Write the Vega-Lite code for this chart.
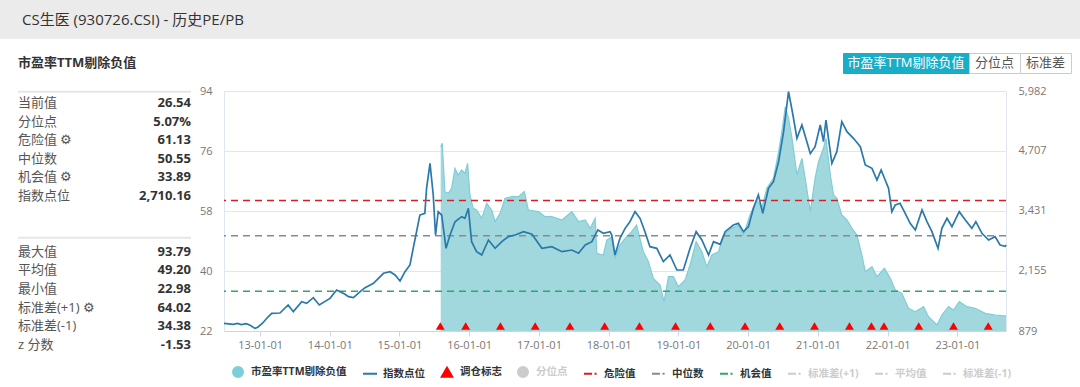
{
  "$schema": "https://vega.github.io/schema/vega-lite/v6.json",
  "padding": 0,
  "background": "white",
  "bounds": "flush",
  "align": "none",
  "spacing": 14,
  "config": {
    "font": "'Open Sans', 'Noto Sans CJK SC', sans-serif",
    "view": {"stroke": null}
  },
  "datasets": {
    "stats": [
      {"r": 0, "label": "当前值", "value": "26.54"},
      {"r": 1, "label": "分位点", "value": "5.07%"},
      {"r": 2, "label": "危险值  ⚙", "value": "61.13"},
      {"r": 3, "label": "中位数", "value": "50.55"},
      {"r": 4, "label": "机会值  ⚙", "value": "33.89"},
      {"r": 5, "label": "指数点位", "value": "2,710.16"},
      {"r": 8, "label": "最大值", "value": "93.79"},
      {"r": 9, "label": "平均值", "value": "49.20"},
      {"r": 10, "label": "最小值", "value": "22.98"},
      {"r": 11, "label": "标准差(+1)  ⚙", "value": "64.02"},
      {"r": 12, "label": "标准差(-1)", "value": "34.38"},
      {"r": 13, "label": "z 分数", "value": "-1.53"}
    ],
    "index": [
      {"d": "2012-06-26", "v": 1040}, {"d": "2012-07-20", "v": 1030}, {"d": "2012-08-13", "v": 1021},
      {"d": "2012-09-05", "v": 1040}, {"d": "2012-09-25", "v": 1015}, {"d": "2012-10-20", "v": 1035},
      {"d": "2012-11-10", "v": 1000}, {"d": "2012-12-05", "v": 935}, {"d": "2012-12-20", "v": 960},
      {"d": "2013-01-15", "v": 1049}, {"d": "2013-02-05", "v": 1150}, {"d": "2013-03-03", "v": 1255},
      {"d": "2013-04-15", "v": 1262}, {"d": "2013-05-28", "v": 1432}, {"d": "2013-06-24", "v": 1290},
      {"d": "2013-08-07", "v": 1502}, {"d": "2013-09-02", "v": 1467}, {"d": "2013-10-07", "v": 1587},
      {"d": "2013-11-07", "v": 1432}, {"d": "2014-01-02", "v": 1573}, {"d": "2014-02-06", "v": 1751},
      {"d": "2014-03-22", "v": 1660}, {"d": "2014-04-09", "v": 1609}, {"d": "2014-05-05", "v": 1587},
      {"d": "2014-06-09", "v": 1715}, {"d": "2014-07-05", "v": 1800}, {"d": "2014-08-18", "v": 1893},
      {"d": "2014-10-09", "v": 2106}, {"d": "2014-11-13", "v": 2140}, {"d": "2014-12-09", "v": 2070},
      {"d": "2015-01-04", "v": 1942}, {"d": "2015-01-30", "v": 2140}, {"d": "2015-02-25", "v": 2282},
      {"d": "2015-03-14", "v": 2637}, {"d": "2015-04-18", "v": 3345}, {"d": "2015-05-14", "v": 3382},
      {"d": "2015-05-23", "v": 3913}, {"d": "2015-06-10", "v": 4444}, {"d": "2015-06-27", "v": 3771},
      {"d": "2015-07-09", "v": 2920}, {"d": "2015-07-23", "v": 3415}, {"d": "2015-08-10", "v": 3345},
      {"d": "2015-09-02", "v": 2637}, {"d": "2015-09-23", "v": 2920}, {"d": "2015-10-19", "v": 3203},
      {"d": "2015-11-23", "v": 3310}, {"d": "2015-12-10", "v": 3275}, {"d": "2015-12-28", "v": 3488},
      {"d": "2016-01-14", "v": 2778}, {"d": "2016-02-09", "v": 2567}, {"d": "2016-03-07", "v": 2495},
      {"d": "2016-04-11", "v": 2814}, {"d": "2016-05-16", "v": 2637}, {"d": "2016-06-20", "v": 2778},
      {"d": "2016-07-25", "v": 2885}, {"d": "2016-08-29", "v": 2920}, {"d": "2016-10-12", "v": 2991},
      {"d": "2016-11-25", "v": 2935}, {"d": "2017-01-16", "v": 2637}, {"d": "2017-03-09", "v": 2672},
      {"d": "2017-05-01", "v": 2566}, {"d": "2017-06-22", "v": 2601}, {"d": "2017-07-27", "v": 2531},
      {"d": "2017-08-31", "v": 2708}, {"d": "2017-10-05", "v": 2778}, {"d": "2017-11-05", "v": 3027},
      {"d": "2017-12-04", "v": 2956}, {"d": "2018-01-08", "v": 2991}, {"d": "2018-01-17", "v": 2920},
      {"d": "2018-02-03", "v": 2495}, {"d": "2018-03-01", "v": 2850}, {"d": "2018-03-28", "v": 3062},
      {"d": "2018-04-22", "v": 3203}, {"d": "2018-05-19", "v": 3416}, {"d": "2018-06-14", "v": 3275},
      {"d": "2018-07-10", "v": 2991}, {"d": "2018-08-05", "v": 2672}, {"d": "2018-09-10", "v": 2637},
      {"d": "2018-10-14", "v": 2354}, {"d": "2018-11-18", "v": 2495}, {"d": "2018-12-24", "v": 2176},
      {"d": "2019-01-27", "v": 2176}, {"d": "2019-03-03", "v": 2637}, {"d": "2019-04-04", "v": 2991},
      {"d": "2019-05-04", "v": 2814}, {"d": "2019-06-08", "v": 2495}, {"d": "2019-07-04", "v": 2778},
      {"d": "2019-08-08", "v": 2722}, {"d": "2019-09-03", "v": 2991}, {"d": "2019-10-16", "v": 3133},
      {"d": "2019-11-11", "v": 3168}, {"d": "2019-12-08", "v": 2991}, {"d": "2020-01-03", "v": 3098},
      {"d": "2020-01-29", "v": 3488}, {"d": "2020-02-24", "v": 3771}, {"d": "2020-03-18", "v": 3381},
      {"d": "2020-04-17", "v": 3913}, {"d": "2020-05-13", "v": 4054}, {"d": "2020-06-09", "v": 4479},
      {"d": "2020-07-05", "v": 5117}, {"d": "2020-07-31", "v": 5968}, {"d": "2020-08-23", "v": 5472},
      {"d": "2020-09-13", "v": 4976}, {"d": "2020-10-09", "v": 5259}, {"d": "2020-11-04", "v": 4904},
      {"d": "2020-11-22", "v": 4650}, {"d": "2020-12-17", "v": 4798}, {"d": "2021-01-13", "v": 5259},
      {"d": "2021-01-30", "v": 4904}, {"d": "2021-02-12", "v": 5365}, {"d": "2021-03-15", "v": 4444},
      {"d": "2021-04-10", "v": 4692}, {"d": "2021-05-06", "v": 5330}, {"d": "2021-06-02", "v": 5117},
      {"d": "2021-07-06", "v": 4976}, {"d": "2021-08-11", "v": 4798}, {"d": "2021-09-06", "v": 4409},
      {"d": "2021-10-11", "v": 4338}, {"d": "2021-11-06", "v": 4090}, {"d": "2021-11-28", "v": 4302},
      {"d": "2021-12-19", "v": 4090}, {"d": "2022-01-06", "v": 3913}, {"d": "2022-01-23", "v": 3416},
      {"d": "2022-02-10", "v": 3558}, {"d": "2022-03-07", "v": 3594}, {"d": "2022-04-03", "v": 3381},
      {"d": "2022-04-29", "v": 3169}, {"d": "2022-05-26", "v": 3027}, {"d": "2022-06-30", "v": 3452},
      {"d": "2022-07-26", "v": 3203}, {"d": "2022-08-21", "v": 2991}, {"d": "2022-09-22", "v": 2637},
      {"d": "2022-10-12", "v": 3062}, {"d": "2022-11-08", "v": 3275}, {"d": "2022-12-04", "v": 3098},
      {"d": "2023-01-11", "v": 3416}, {"d": "2023-02-12", "v": 3239}, {"d": "2023-03-18", "v": 3062},
      {"d": "2023-04-08", "v": 3203}, {"d": "2023-05-10", "v": 2956}, {"d": "2023-06-14", "v": 2814},
      {"d": "2023-07-18", "v": 2885}, {"d": "2023-08-13", "v": 2708}, {"d": "2023-09-09", "v": 2680},
      {"d": "2023-09-13", "v": 2710}
    ],
    "pe": [
      {"d": "2015-08-05", "pe": 77.3}, {"d": "2015-08-13", "pe": 78.3}, {"d": "2015-08-27", "pe": 63.8},
      {"d": "2015-09-14", "pe": 63.3}, {"d": "2015-10-01", "pe": 64.8}, {"d": "2015-10-19", "pe": 70.8},
      {"d": "2015-11-05", "pe": 68.8}, {"d": "2015-11-23", "pe": 70.3}, {"d": "2015-12-10", "pe": 69.3},
      {"d": "2015-12-24", "pe": 72.3}, {"d": "2016-01-05", "pe": 62.8}, {"d": "2016-01-22", "pe": 58.8},
      {"d": "2016-02-09", "pe": 58.3}, {"d": "2016-03-07", "pe": 55.8}, {"d": "2016-04-02", "pe": 60.3},
      {"d": "2016-04-28", "pe": 58.3}, {"d": "2016-05-16", "pe": 54.8}, {"d": "2016-06-11", "pe": 57.3},
      {"d": "2016-07-07", "pe": 61.8}, {"d": "2016-08-11", "pe": 62.3}, {"d": "2016-09-15", "pe": 62.3},
      {"d": "2016-10-16", "pe": 63.8}, {"d": "2016-11-06", "pe": 58.3}, {"d": "2016-12-29", "pe": 57.8},
      {"d": "2017-02-02", "pe": 56.3}, {"d": "2017-03-09", "pe": 56.3}, {"d": "2017-05-01", "pe": 55.3},
      {"d": "2017-06-22", "pe": 57.8}, {"d": "2017-07-27", "pe": 54.8}, {"d": "2017-08-31", "pe": 55.3},
      {"d": "2017-09-26", "pe": 52.8}, {"d": "2017-10-22", "pe": 55.8}, {"d": "2017-10-31", "pe": 45.3},
      {"d": "2017-12-04", "pe": 44.8}, {"d": "2017-12-22", "pe": 49.3}, {"d": "2018-01-17", "pe": 50.3},
      {"d": "2018-02-03", "pe": 43.8}, {"d": "2018-03-01", "pe": 47.8}, {"d": "2018-03-28", "pe": 49.8},
      {"d": "2018-05-01", "pe": 51.8}, {"d": "2018-05-27", "pe": 53.8}, {"d": "2018-07-01", "pe": 45.8},
      {"d": "2018-07-28", "pe": 42.8}, {"d": "2018-08-23", "pe": 37.8}, {"d": "2018-09-27", "pe": 35.8},
      {"d": "2018-10-18", "pe": 30.8}, {"d": "2018-11-10", "pe": 38.3}, {"d": "2018-12-06", "pe": 38.3},
      {"d": "2019-01-01", "pe": 35.3}, {"d": "2019-02-05", "pe": 37.3}, {"d": "2019-03-03", "pe": 41.8},
      {"d": "2019-04-04", "pe": 48.8}, {"d": "2019-05-04", "pe": 45.8}, {"d": "2019-05-30", "pe": 41.3},
      {"d": "2019-06-25", "pe": 44.8}, {"d": "2019-07-30", "pe": 45.8}, {"d": "2019-08-25", "pe": 50.8},
      {"d": "2019-10-08", "pe": 52.8}, {"d": "2019-11-11", "pe": 53.8}, {"d": "2019-12-08", "pe": 50.8},
      {"d": "2020-01-11", "pe": 56.8}, {"d": "2020-02-15", "pe": 61.3}, {"d": "2020-03-13", "pe": 58.8},
      {"d": "2020-04-08", "pe": 64.8}, {"d": "2020-05-13", "pe": 67.8}, {"d": "2020-06-09", "pe": 75.8},
      {"d": "2020-06-26", "pe": 81.8}, {"d": "2020-07-14", "pe": 89.3}, {"d": "2020-07-31", "pe": 85.8},
      {"d": "2020-08-18", "pe": 79.8}, {"d": "2020-09-13", "pe": 68.8}, {"d": "2020-10-09", "pe": 73.8},
      {"d": "2020-10-26", "pe": 67.8}, {"d": "2020-11-22", "pe": 57.8}, {"d": "2020-12-17", "pe": 67.8},
      {"d": "2021-01-04", "pe": 72.8}, {"d": "2021-01-30", "pe": 76.8}, {"d": "2021-02-12", "pe": 79.8},
      {"d": "2021-03-07", "pe": 68.8}, {"d": "2021-03-24", "pe": 62.8}, {"d": "2021-04-10", "pe": 61.8},
      {"d": "2021-05-06", "pe": 56.8}, {"d": "2021-06-02", "pe": 55.3}, {"d": "2021-06-28", "pe": 52.8},
      {"d": "2021-07-24", "pe": 50.8}, {"d": "2021-08-19", "pe": 44.8}, {"d": "2021-09-06", "pe": 39.8},
      {"d": "2021-10-11", "pe": 41.3}, {"d": "2021-11-06", "pe": 38.3}, {"d": "2021-12-15", "pe": 40.8},
      {"d": "2022-01-15", "pe": 37.8}, {"d": "2022-02-10", "pe": 34.3}, {"d": "2022-03-17", "pe": 33.3},
      {"d": "2022-04-20", "pe": 28.8}, {"d": "2022-05-26", "pe": 27.8}, {"d": "2022-07-08", "pe": 29.3},
      {"d": "2022-08-03", "pe": 26.3}, {"d": "2022-09-17", "pe": 23.8}, {"d": "2022-10-12", "pe": 26.8},
      {"d": "2022-11-16", "pe": 29.3}, {"d": "2022-12-12", "pe": 28.3}, {"d": "2023-01-11", "pe": 30.8},
      {"d": "2023-02-21", "pe": 29.3}, {"d": "2023-04-05", "pe": 28.8}, {"d": "2023-05-27", "pe": 27.3},
      {"d": "2023-07-18", "pe": 26.8}, {"d": "2023-08-22", "pe": 26.6}, {"d": "2023-09-13", "pe": 26.54}
    ],
    "trig": [
      {"d": "2015-08-03"}, {"d": "2015-12-14"}, {"d": "2016-06-13"}, {"d": "2016-12-12"},
      {"d": "2017-06-12"}, {"d": "2017-12-11"}, {"d": "2018-06-11"}, {"d": "2018-12-17"},
      {"d": "2019-06-17"}, {"d": "2019-12-16"}, {"d": "2020-06-15"}, {"d": "2020-12-14"},
      {"d": "2021-06-15"}, {"d": "2021-10-08"}, {"d": "2021-12-13"}, {"d": "2022-06-13"},
      {"d": "2022-12-12"}, {"d": "2023-06-12"}
    ],
    "lines": [
      {"name": "危险值", "v": 61.13},
      {"name": "中位数", "v": 50.55},
      {"name": "机会值", "v": 33.89}
    ]
  },
  "vconcat": [
    {
      "width": 1080,
      "height": 39,
      "view": {"fill": "#ebebeb", "stroke": null},
      "title": {"text": "CS生医 (930726.CSI) - 历史PE/PB", "anchor": "start", "orient": "top", "offset": -28, "dx": 22, "fontSize": 15, "fontWeight": "normal", "color": "#333333"},
      "data": {"values": [{"t": ""}]},
      "mark": "text",
      "encoding": {"text": {"field": "t"}}
    },
    {
      "hconcat": [
        {
          "width": 200,
          "height": 300,
          "layer": [
            {
              "data": {"values": [{"r": -0.6}, {"r": 7.25}]},
              "mark": {"type": "rule", "color": "#e6e6e6", "strokeWidth": 2},
              "encoding": {
                "x": {"datum": 0, "type": "quantitative", "scale": {"domain": [-0.104, 1.052], "nice": false, "zero": false}, "axis": null},
                "x2": {"datum": 1},
                "y": {"field": "r", "type": "quantitative", "scale": {"domain": [-2.688, 13.44], "reverse": true, "nice": false, "zero": false}, "axis": null}
              }
            },
            {
              "data": {"values": [{"r": -2.15, "t": "市盈率TTM剔除负值"}]},
              "mark": {"type": "text", "align": "left", "fontWeight": "bold", "fontSize": 13, "color": "#333333"},
              "encoding": {
                "x": {"datum": 0, "type": "quantitative"},
                "y": {"field": "r", "type": "quantitative"},
                "text": {"field": "t"}
              }
            },
            {
              "data": {"name": "stats"},
              "mark": {"type": "text", "align": "left", "fontSize": 13, "color": "#555555"},
              "encoding": {
                "x": {"datum": 0, "type": "quantitative"},
                "y": {"field": "r", "type": "quantitative"},
                "text": {"field": "label"}
              }
            },
            {
              "data": {"name": "stats"},
              "mark": {"type": "text", "align": "right", "fontSize": 13, "fontWeight": "bold", "color": "#333333"},
              "encoding": {
                "x": {"datum": 1, "type": "quantitative"},
                "y": {"field": "r", "type": "quantitative"},
                "text": {"field": "value"}
              }
            }
          ]
        },
        {
          "vconcat": [
            {
              "hconcat": [
                {"width": 619, "height": 20, "data": {"values": [{"t": ""}]}, "mark": "text", "encoding": {"text": {"field": "t"}}},
                {"width": 126, "height": 20, "view": {"fill": "#19aec8", "stroke": "#19aec8"}, "data": {"values": [{"t": "市盈率TTM剔除负值"}]}, "mark": {"type": "text", "color": "white", "fontSize": 13}, "encoding": {"text": {"field": "t"}}},
                {"width": 51, "height": 20, "view": {"fill": "white", "stroke": "#cccccc"}, "data": {"values": [{"t": "分位点"}]}, "mark": {"type": "text", "color": "#555555", "fontSize": 13}, "encoding": {"text": {"field": "t"}}},
                {"width": 51, "height": 20, "view": {"fill": "white", "stroke": "#cccccc"}, "data": {"values": [{"t": "标准差"}]}, "mark": {"type": "text", "color": "#555555", "fontSize": 13}, "encoding": {"text": {"field": "t"}}}
              ],
              "spacing": 0,
              "bounds": "flush",
              "align": "none"
            },
            {
              "width": 782,
              "height": 240,
              "resolve": {"scale": {"y": "independent"}},
              "layer": [
                {
                  "layer": [
                    {
                      "data": {"name": "pe"},
                      "mark": {"type": "area", "color": "#a0d8de", "opacity": 1, "clip": true, "line": {"color": "#80cdd6", "strokeWidth": 1.2}},
                      "encoding": {
                        "x": {"field": "d", "type": "temporal", "scale": {"domain": ["2012-06-26", "2023-09-13"]}, "axis": {"title": null, "format": "%y-%m-%d", "tickCount": {"interval": "year", "step": 1}, "grid": false, "tickSize": 5, "labelPadding": 3, "domainColor": "#ccd6eb", "tickColor": "#ccd6eb", "labelColor": "#777777", "labelFontSize": 11}},
                        "y": {"field": "pe", "type": "quantitative", "scale": {"domain": [22, 94], "nice": false, "zero": false}, "axis": {"title": null, "values": [22, 40, 58, 76, 94], "grid": true, "gridColor": "#e6e6e6", "domainColor": "#dfe6ef", "ticks": false, "labelPadding": 12, "labelColor": "#777777", "labelFontSize": 11}},
                        "y2": {"datum": 22}
                      }
                    },
                    {
                      "data": {"name": "lines"},
                      "mark": {"type": "rule", "strokeDash": [7, 5], "strokeWidth": 1.5},
                      "encoding": {
                        "y": {"field": "v", "type": "quantitative"},
                        "color": {
                          "field": "name",
                          "type": "nominal",
                          "scale": {
                            "domain": ["市盈率TTM剔除负值", "指数点位", "调仓标志", "分位点", "危险值", "中位数", "机会值", "标准差(+1)", "平均值", "标准差(-1)"],
                            "range": ["#7ccfd8", "#2a79aa", "#ff0000", "#cccccc", "#d62020", "#8a8a8a", "#2ea86a", "#cccccc", "#cccccc", "#cccccc"]
                          },
                          "legend": {
                            "orient": "none",
                            "legendX": 230,
                            "legendY": 364,
                            "direction": "horizontal",
                            "title": null,
                            "columnPadding": 12,
                            "labelOffset": 5,
                            "labelFontSize": 10.5,
                            "labelFontWeight": "bold",
                            "labelColor": "#333333",
                            "symbolSize": 196,
                            "symbolStrokeWidth": 2,
                            "encode": {
                              "symbols": {
                                "update": {
                                  "shape": {"signal": "datum.value === '调仓标志' ? 'triangle-up' : (datum.value === '市盈率TTM剔除负值' || datum.value === '分位点') ? 'circle' : datum.value === '指数点位' ? 'M-1,0H1' : 'M-1,0H0.15M0.5,0H0.8'"},
                                  "size": {"signal": "datum.value === '调仓标志' ? 110 : (datum.value === '市盈率TTM剔除负值' || datum.value === '分位点') ? 100 : 196"},
                                  "fill": {"signal": "datum.value === '调仓标志' ? '#ff0000' : datum.value === '市盈率TTM剔除负值' ? '#7ccfd8' : datum.value === '分位点' ? '#cccccc' : 'transparent'"},
                                  "stroke": {"signal": "(datum.value === '调仓标志' || datum.value === '市盈率TTM剔除负值' || datum.value === '分位点') ? 'transparent' : datum.value === '指数点位' ? '#2a79aa' : datum.value === '危险值' ? '#d62020' : datum.value === '中位数' ? '#8a8a8a' : datum.value === '机会值' ? '#2ea86a' : '#cccccc'"},
                                  "strokeWidth": {"value": 2},
                                  "opacity": {"value": 1}
                                }
                              },
                              "labels": {
                                "update": {
                                  "fill": {"signal": "(datum.value === '分位点' || datum.value === '标准差(+1)' || datum.value === '平均值' || datum.value === '标准差(-1)') ? '#cccccc' : '#333333'"}
                                }
                              }
                            }
                          }
                        }
                      }
                    },
                    {
                      "data": {"name": "trig"},
                      "mark": {"type": "point", "shape": "triangle-up", "filled": true, "color": "#ff0000", "opacity": 1, "size": 80, "yOffset": -5},
                      "encoding": {
                        "x": {"field": "d", "type": "temporal"},
                        "y": {"datum": 22, "type": "quantitative"}
                      }
                    }
                  ]
                },
                {
                  "data": {"name": "index"},
                  "mark": {"type": "line", "color": "#2a79aa", "strokeWidth": 1.7},
                  "encoding": {
                    "x": {"field": "d", "type": "temporal"},
                    "y": {"field": "v", "type": "quantitative", "scale": {"domain": [879, 5982], "nice": false, "zero": false}, "axis": {"title": null, "orient": "right", "values": [879, 2155, 3431, 4707, 5982], "format": ",.0f", "grid": false, "ticks": false, "labelPadding": 12, "domainColor": "#dfe6ef", "labelColor": "#777777", "labelFontSize": 11}}
                  }
                }
              ]
            }
          ],
          "spacing": 38,
          "bounds": "flush",
          "align": "none"
        }
      ],
      "spacing": 24,
      "bounds": "flush",
      "align": "none"
    }
  ]
}
